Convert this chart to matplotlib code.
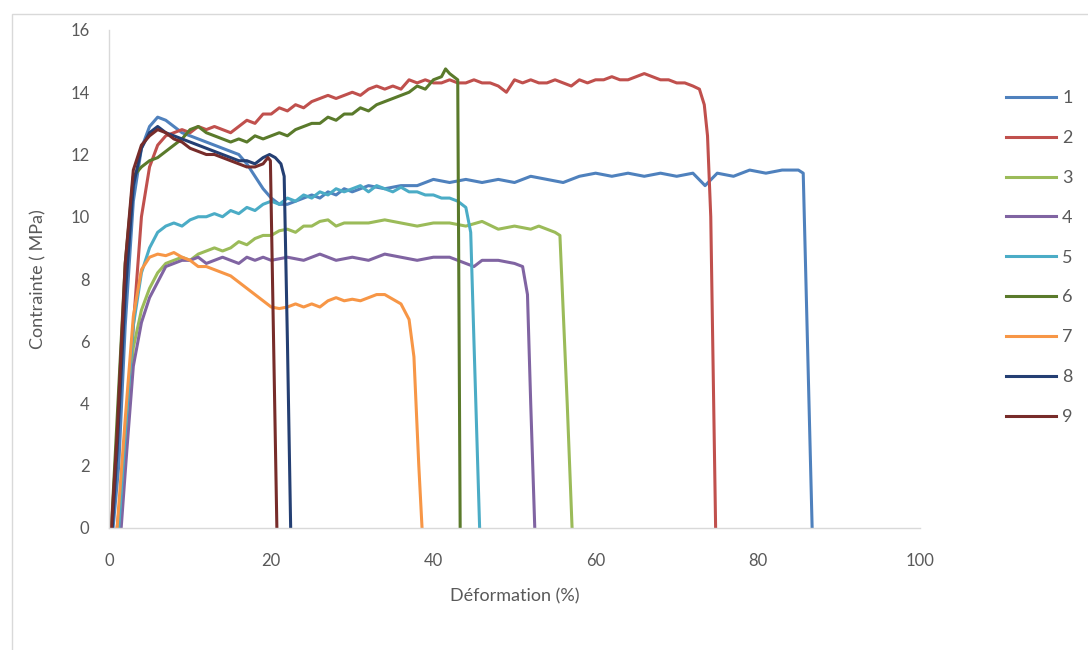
import matplotlib
matplotlib.use("Agg")
import matplotlib.pyplot as plt
from matplotlib.patches import Rectangle

plt.rcParams['font.family'] = ['Lato', 'DejaVu Sans']

labels = ["1", "2", "3", "4", "5", "6", "7", "8", "9"]
colors = ["#4F81BD", "#C0504D", "#9BBB59", "#8064A2", "#4BACC6",
          "#5A7A2B", "#F79646", "#243F73", "#772C2A"]

x1 = [0.5, 1.2, 2, 3, 4, 5, 6, 7, 8, 9, 10, 11, 12, 13, 14, 15, 16, 17, 18, 19, 20, 21, 22, 23, 24,
      25, 26, 27, 28, 29, 30, 32, 34, 36, 38, 40, 42, 44, 46, 48, 50, 52, 54, 56, 58, 60, 62, 64,
      66, 68, 70, 72, 73.5, 75, 77, 79, 81, 83, 85, 85.6, 86.7]
y1 = [0, 2, 6.5, 10.5, 12.2, 12.9, 13.2, 13.1, 12.9, 12.7, 12.6, 12.5, 12.4, 12.3, 12.2, 12.1, 12.0,
      11.7, 11.3, 10.9, 10.6, 10.4, 10.4, 10.5, 10.6, 10.7, 10.6, 10.8, 10.7, 10.9, 10.8, 11.0, 10.9,
      11.0, 11.0, 11.2, 11.1, 11.2, 11.1, 11.2, 11.1, 11.3, 11.2, 11.1, 11.3, 11.4, 11.3, 11.4, 11.3,
      11.4, 11.3, 11.4, 11.0, 11.4, 11.3, 11.5, 11.4, 11.5, 11.5, 11.4, 0]

x2 = [1.0, 2, 3, 4, 5, 6, 7, 8, 9, 10, 11, 12, 13, 14, 15, 16, 17, 18, 19, 20, 21, 22, 23, 24, 25,
      26, 27, 28, 29, 30, 31, 32, 33, 34, 35, 36, 37, 38, 39, 40, 41, 42, 43, 44, 45, 46, 47, 48,
      49, 50, 51, 52, 53, 54, 55, 56, 57, 58, 59, 60, 61, 62, 63, 64, 65, 66, 67, 68, 69, 70, 71,
      72, 72.8, 73.4, 73.8, 74.2, 74.8]
y2 = [0, 2.5, 6.5, 10, 11.6, 12.3, 12.6, 12.7, 12.8, 12.7, 12.9, 12.8, 12.9, 12.8, 12.7, 12.9, 13.1,
      13.0, 13.3, 13.3, 13.5, 13.4, 13.6, 13.5, 13.7, 13.8, 13.9, 13.8, 13.9, 14.0, 13.9, 14.1, 14.2,
      14.1, 14.2, 14.1, 14.4, 14.3, 14.4, 14.3, 14.3, 14.4, 14.3, 14.3, 14.4, 14.3, 14.3, 14.2, 14.0,
      14.4, 14.3, 14.4, 14.3, 14.3, 14.4, 14.3, 14.2, 14.4, 14.3, 14.4, 14.4, 14.5, 14.4, 14.4, 14.5,
      14.6, 14.5, 14.4, 14.4, 14.3, 14.3, 14.2, 14.1, 13.6, 12.6, 10, 0]

x3 = [1.2, 2, 3, 4, 5, 6, 7, 8, 9, 10, 11, 12, 13, 14, 15, 16, 17, 18, 19, 20, 21, 22, 23, 24, 25,
      26, 27, 28, 29, 30, 32, 34, 36, 38, 40, 42, 44, 46, 48, 50, 52, 53, 54, 55, 55.6, 56, 56.5, 57.1]
y3 = [0, 3, 5.8, 7.0, 7.7, 8.2, 8.5, 8.6, 8.7, 8.6, 8.8, 8.9, 9.0, 8.9, 9.0, 9.2, 9.1, 9.3, 9.4, 9.4,
      9.55, 9.6, 9.5, 9.7, 9.7, 9.85, 9.9, 9.7, 9.8, 9.8, 9.8, 9.9, 9.8, 9.7, 9.8, 9.8, 9.7, 9.85,
      9.6, 9.7, 9.6, 9.7, 9.6, 9.5, 9.4, 7, 4, 0]

x4 = [1.5, 2.2, 3, 4, 5, 6, 7, 8, 9, 10, 11, 12, 13, 14, 15, 16, 17, 18, 19, 20, 22, 24, 26, 28, 30,
      32, 34, 36, 38, 40, 42, 43, 44, 45, 46, 48, 50, 51, 51.6, 52, 52.5]
y4 = [0, 2.5, 5.2, 6.6, 7.4, 7.9, 8.4, 8.5, 8.6, 8.6, 8.7, 8.5, 8.6, 8.7, 8.6, 8.5, 8.7, 8.6, 8.7,
      8.6, 8.7, 8.6, 8.8, 8.6, 8.7, 8.6, 8.8, 8.7, 8.6, 8.7, 8.7, 8.6, 8.5, 8.4, 8.6, 8.6, 8.5, 8.4,
      7.5, 4, 0]

x5 = [1.2, 2, 3, 4, 5, 6, 7, 8, 9, 10, 11, 12, 13, 14, 15, 16, 17, 18, 19, 20, 21, 22, 23, 24, 25,
      26, 27, 28, 29, 30, 31, 32, 33, 34, 35, 36, 37, 38, 39, 40, 41, 42, 43, 44, 44.6, 45.0, 45.7]
y5 = [0, 3.0, 6.5, 8.2, 9.0, 9.5, 9.7, 9.8, 9.7, 9.9, 10.0, 10.0, 10.1, 10.0, 10.2, 10.1, 10.3, 10.2,
      10.4, 10.5, 10.4, 10.6, 10.5, 10.7, 10.6, 10.8, 10.7, 10.9, 10.8, 10.9, 11.0, 10.8, 11.0, 10.9,
      10.8, 10.95, 10.8, 10.8, 10.7, 10.7, 10.6, 10.6, 10.5, 10.3, 9.5, 6, 0]

x6 = [0.3, 1, 2, 3, 4, 5, 6, 7, 8, 9, 10, 11, 12, 13, 14, 15, 16, 17, 18, 19, 20, 21, 22, 23, 24,
      25, 26, 27, 28, 29, 30, 31, 32, 33, 34, 35, 36, 37, 38, 39, 40, 41, 41.5, 42, 42.5, 43, 43.3]
y6 = [0, 3.5, 8.5, 11.3, 11.6, 11.8, 11.9, 12.1, 12.3, 12.5, 12.8, 12.9, 12.7, 12.6, 12.5, 12.4,
      12.5, 12.4, 12.6, 12.5, 12.6, 12.7, 12.6, 12.8, 12.9, 13.0, 13.0, 13.2, 13.1, 13.3, 13.3, 13.5,
      13.4, 13.6, 13.7, 13.8, 13.9, 14.0, 14.2, 14.1, 14.4, 14.5, 14.75, 14.6, 14.5, 14.4, 0]

x7 = [1.0, 2, 3, 4, 5, 6, 7, 8, 9, 10, 11, 12, 13, 14, 15, 16, 17, 18, 19, 20, 21, 22, 23, 24, 25,
      26, 27, 28, 29, 30, 31, 32, 33, 34, 35, 36, 37, 37.6, 38.2, 38.6]
y7 = [0, 3.5, 6.8, 8.3, 8.7, 8.8, 8.75, 8.85, 8.7, 8.6, 8.4, 8.4, 8.3, 8.2, 8.1, 7.9, 7.7, 7.5, 7.3,
      7.1, 7.05, 7.1, 7.2, 7.1, 7.2, 7.1, 7.3, 7.4, 7.3, 7.35, 7.3, 7.4, 7.5, 7.5, 7.35, 7.2, 6.7,
      5.5, 2, 0]

x8 = [0.4, 1, 2, 3, 4, 5, 6, 7, 8, 9, 10, 11, 12, 13, 14, 15, 16, 17, 18, 19, 19.8, 20.5, 21.2,
      21.6, 22.0, 22.4]
y8 = [0, 2.5, 7.5, 11.0, 12.2, 12.7, 12.9, 12.7, 12.6, 12.5, 12.4, 12.3, 12.2, 12.1, 12.0, 11.9,
      11.8, 11.8, 11.7, 11.9, 12.0, 11.9, 11.7, 11.3, 6, 0]

x9 = [0.3, 1, 2, 3, 4, 5, 6, 7, 8, 9, 10, 11, 12, 13, 14, 15, 16, 17, 18, 19, 19.6, 19.9, 20.7]
y9 = [0, 3, 8.5, 11.5, 12.3, 12.6, 12.8, 12.7, 12.5, 12.4, 12.2, 12.1, 12.0, 12.0, 11.9, 11.8, 11.7,
      11.6, 11.6, 11.7, 11.9, 11.8, 0]

series_x = [x1, x2, x3, x4, x5, x6, x7, x8, x9]
series_y = [y1, y2, y3, y4, y5, y6, y7, y8, y9]

x_ticks = [0, 20, 40, 60, 80, 100]
y_ticks = [0, 2, 4, 6, 8, 10, 12, 14, 16]

W, H = 1088, 650
fig = plt.figure(figsize=(W / 100, H / 100), dpi=100)
fig.patch.set_facecolor("white")
fig.patches.append(Rectangle((12 / W, -0.1), 1.2, 1 - 14 / H + 0.1, transform=fig.transFigure,
                             fill=False, edgecolor="#D9D9D9", linewidth=1.0))

ax = fig.add_axes([109 / W, 1 - 528 / H, (920 - 109) / W, (528 - 30) / H])
lines = []
for xs, ys, c, lab in zip(series_x, series_y, colors, labels):
    ln, = ax.plot(xs, ys, color=c, linewidth=2.2, label=lab, solid_joinstyle="round")
    lines.append(ln)

ax.set_xlim(0, 100)
ax.set_ylim(0, 16)
ax.set_xticks(x_ticks)
ax.set_yticks(y_ticks)
for s in ["top", "right"]:
    ax.spines[s].set_visible(False)
ax.spines["left"].set_color("#D9D9D9")
ax.spines["bottom"].set_color("#D9D9D9")
ax.spines["left"].set_linewidth(1.0)
ax.spines["bottom"].set_linewidth(1.0)
ax.tick_params(axis="both", length=0, labelsize=12, colors="#595959")
ax.tick_params(axis="y", pad=14)
ax.tick_params(axis="x", pad=18)
ax.set_xlabel("Déformation (%)", fontsize=13, color="#595959", labelpad=14)
ax.set_ylabel("Contrainte ( MPa)", fontsize=13, color="#595959", labelpad=17)

fig.legend(handles=lines, labels=labels, loc="upper left",
           bbox_to_anchor=(990 / W, 1 - 74 / H), frameon=False, fontsize=13,
           handlelength=2.75, handletextpad=0.35, labelspacing=1.32, labelcolor="#595959")

fig.savefig("out.png", dpi=100)
